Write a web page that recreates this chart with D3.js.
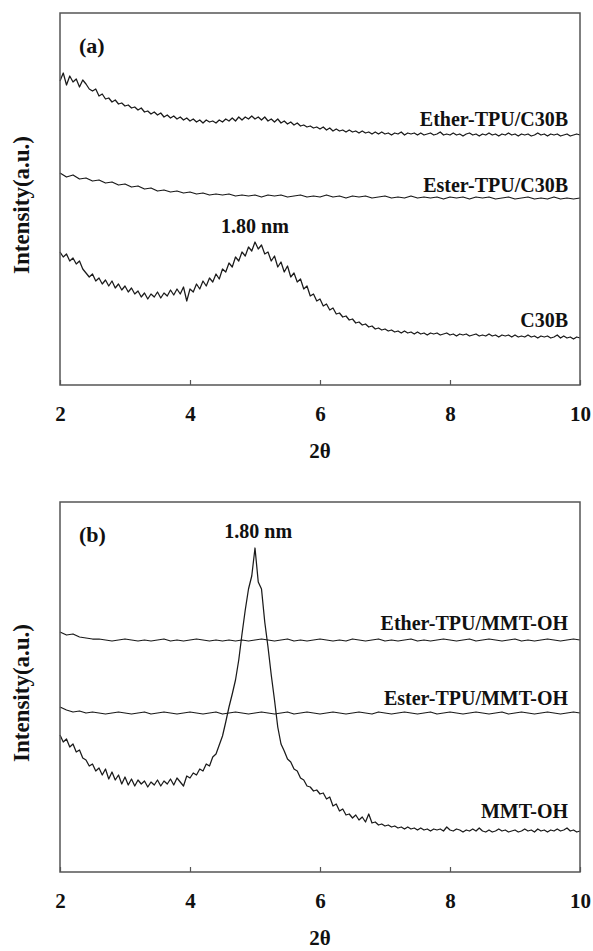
<!DOCTYPE html>
<html>
<head>
    <script src="https://d3js.org/d3.v7.min.js"></script>
    <title>XRD patterns</title>
    <style>
        body { margin: 0; background: #fff; }
    </style>
</head>
<body>
    <svg id="plot" width="593" height="951"></svg>
    <script>
        const FONT = "'Liberation Serif', 'Times New Roman', serif";

        // 2theta sampling runs from 2 to 10, evenly spaced over each array
        const xTicks = [2, 4, 6, 8, 10];

        // panel (a) intensities (a.u., offset stacked)
        const etherC30B = [304,312,300,309,303,306,298,305,301,296,294,296,289,291,286,287,283,285,281,282,
            279,280,277,278,275,277,273,274,271,273,270,272,268,270,267,269,266,268,265,267,
            264,266,263,265,262,265,263,264,262,265,263,266,264,267,264,268,265,268,266,269,
            266,268,265,268,264,266,263,266,262,264,261,263,260,262,259,260,258,259,257,258,
            256,258,255,257,254,256,254,255,253,255,253,254,252,254,252,253,251,253,251,253,
            251,252,250,252,251,253,250,252,251,252,250,252,250,251,252,250,251,253,250,251,
            250,252,250,251,249,251,252,250,251,249,251,250,252,250,251,249,251,250,252,250,
            251,249,251,250,251,249,250,252,250,251,249,251,250,251,249,250,251,249,250,251,250];
        const esterC30B = [212,208,210,206,207,204,205,202,203,200,201,198,199,196,197,194,195,193,194,192,
            193,191,192,190,191,190,191,189,190,189,190,188,190,189,190,188,189,190,188,189,
            188,190,188,189,187,189,188,189,187,188,189,187,188,187,189,187,188,187,188,186,
            188,187,188,186,188,187,188,186,187,188,186,187,188,186,187,186,188,186,187,186,187];
        const c30b = [133,128,131,124,127,121,124,116,112,108,111,104,107,101,105,99,104,97,101,95,
            99,93,97,91,94,88,92,86,91,88,93,87,92,89,95,90,96,91,98,84,
            96,93,101,96,104,99,107,103,111,106,116,113,122,118,128,124,133,129,138,134,
            143,136,140,131,133,124,129,118,123,113,119,108,112,103,106,96,99,89,91,84,
            86,79,81,75,77,71,72,68,69,65,66,62,63,60,61,58,59,56,57,55,
            56,54,55,53,54,52,54,52,53,51,53,51,52,50,52,51,52,50,51,52,
            50,51,49,51,50,51,49,50,51,49,50,49,51,49,50,48,50,49,50,48,
            50,48,49,48,50,48,49,47,49,48,49,47,48,50,47,49,47,48,46,48,47];

        // panel (b) intensities
        const etherMMT = [240,237,238,235,234,233,233,232,231,232,233,232,231,232,231,232,233,231,232,231,
            232,233,232,231,232,231,232,231,232,231,232,233,232,231,232,233,231,232,231,232,
            233,232,231,232,231,233,232,231,232,233,231,232,231,232,233,231,232,231,232,233,
            232,231,232,233,231,232,233,232,231,232,233,231,232,231,232,233,232,231,232,233,232];
        const esterMMT = [165,162,160,161,159,160,159,158,159,160,159,158,159,160,158,159,160,159,158,159,
            160,159,158,159,160,158,159,160,159,158,159,160,159,158,159,160,158,159,160,159,
            158,159,160,159,158,159,160,159,158,160,159,158,159,160,159,158,159,160,158,159,
            160,159,158,159,160,159,158,159,160,158,159,160,159,158,159,160,159,158,159,160,159];
        const mmtOH = [137,130,133,125,128,120,122,114,112,106,108,101,104,97,103,93,100,92,97,88,
            95,87,93,86,92,88,91,85,90,87,92,86,91,88,93,87,94,90,86,96,
            94,99,97,103,101,108,106,115,118,127,136,150,165,178,192,212,238,262,283,296,
            324,290,283,250,225,197,172,145,128,121,113,110,103,101,94,92,86,85,81,82,
            78,79,73,75,66,68,61,63,57,58,54,57,52,55,50,58,49,50,47,48,
            46,47,45,46,44,45,43,45,43,44,42,44,42,43,41,43,42,43,41,45,
            42,41,43,42,40,42,41,43,41,44,41,40,42,40,41,43,41,42,40,41,
            42,40,41,43,41,42,40,43,41,42,40,42,41,43,41,42,44,41,42,40,41];

        const panels = [
            {tag: '(a)', top: 13, bottom: 385, peak: [5.0, 152],
             series: [
                {name: 'Ether-TPU/C30B', values: etherC30B, labelY: 259},
                {name: 'Ester-TPU/C30B', values: esterC30B, labelY: 193},
                {name: 'C30B', values: c30b, labelY: 58}
             ]},
            {tag: '(b)', top: 502, bottom: 872, peak: [5.05, 334],
             series: [
                {name: 'Ether-TPU/MMT-OH', values: etherMMT, labelY: 242},
                {name: 'Ester-TPU/MMT-OH', values: esterMMT, labelY: 167},
                {name: 'MMT-OH', values: mmtOH, labelY: 54}
             ]}
        ];

        const svg = d3.select('svg#plot');
        const left = 60, right = 580;
        const x = d3.scaleLinear().domain([2, 10]).range([left, right]);

        function label(sel, size) {
            return sel.style('font-family', FONT)
                      .style('font-weight', 'bold')
                      .style('font-size', size + 'px')
                      .attr('fill', '#111');
        }

        panels.forEach(p => {
            const y = d3.scaleLinear().domain([0, p.bottom - p.top]).range([p.bottom, p.top]);
            const g = svg.append('g');

            // curves
            const line = d3.line().x(d => x(d[0])).y(d => y(d[1]));
            p.series.forEach(s => {
                const n = s.values.length;
                const pts = s.values.map((v, i) => [2 + 8 * i / (n - 1), v]);
                g.append('path')
                    .attr('d', line(pts))
                    .attr('fill', 'none')
                    .attr('stroke', '#1a1a1a')
                    .attr('stroke-width', 1.25)
                    .attr('stroke-linejoin', 'round');

                g.append('text')
                    .attr('x', 568)
                    .attr('y', y(s.labelY))
                    .attr('text-anchor', 'end')
                    .call(label, 20)
                    .text(s.name);
            });

            // frame
            g.append('rect')
                .attr('x', left).attr('y', p.top)
                .attr('width', right - left).attr('height', p.bottom - p.top)
                .attr('fill', 'none')
                .attr('stroke', '#555')
                .attr('stroke-width', 1.5);

            // bottom axis, ticks pointing inward
            const axis = g.append('g')
                .attr('transform', `translate(0,${p.bottom})`)
                .call(d3.axisBottom(x).tickValues(xTicks).tickSize(-5).tickPadding(21).tickFormat(d3.format('d')));
            axis.select('.domain').remove();
            axis.selectAll('line').attr('stroke', '#555').attr('stroke-width', 1.2);
            axis.selectAll('text').call(label, 21);

            g.append('text')
                .attr('x', 320)
                .attr('y', p.bottom + 73)
                .attr('text-anchor', 'middle')
                .call(label, 21)
                .text('2θ');

            g.append('text')
                .attr('transform', `translate(29,${(p.top + p.bottom) / 2 + 6}) rotate(-90)`)
                .attr('text-anchor', 'middle')
                .call(label, 23)
                .text('Intensity(a.u.)');

            g.append('text')
                .attr('x', 79)
                .attr('y', p.top + 40)
                .call(label, 22)
                .text(p.tag);

            g.append('text')
                .attr('x', x(p.peak[0]))
                .attr('y', y(p.peak[1]))
                .attr('text-anchor', 'middle')
                .call(label, 20)
                .text('1.80 nm');
        });
    </script>
</body>
</html>
